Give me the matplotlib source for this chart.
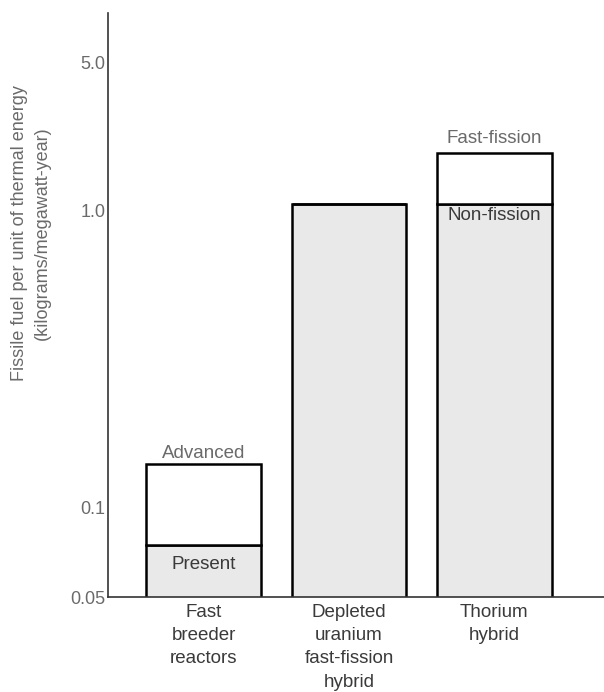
"""Fissile fuel requirement per unit of thermal energy, by reactor type."""

import matplotlib.pyplot as plt

plt.rcParams["font.family"] = ["Liberation Sans", "DejaVu Sans"]

categories = ["Fast\nbreeder\nreactors", "Depleted\nuranium\nfast-fission\nhybrid", "Thorium\nhybrid"]
# lower (shaded) segment and total height of each bar, kg/MW-year
lower_values = [0.075, 1.05, 1.05]
total_values = [0.14, 1.05, 1.56]
lower_labels = ["Present", None, "Non-fission"]
upper_labels = ["Advanced", None, "Fast-fission"]

# the source draws its "5.0" label off the log scale; keep it where the picture has it
ytick_values = [0.05, 0.1, 1.0, 3.16]
ytick_labels = ["0.05", "0.1", "1.0", "5.0"]

GRAY_TEXT = "#6a6a6a"
DARK_TEXT = "#3a3a3a"
FILL = "#e9e9e9"


def main() -> None:
    fig = plt.figure(figsize=(6.04, 6.92), dpi=100)
    ax = fig.add_axes([108 / 604, 1 - 597 / 692, 1 - 108 / 604, (597 - 13) / 692])
    ax.set_yscale("log")
    ax.set_ylim(0.05, 4.63)
    x = list(range(len(categories)))
    ax.set_xlim(-0.659, 2.755)

    width = 0.79
    ax.bar(x, lower_values, width=width, color=FILL,
           edgecolor="black", linewidth=1.8, zorder=2)
    upper = [t - l for t, l in zip(total_values, lower_values)]
    ax.bar(x, upper, width=width, bottom=lower_values, color="white",
           edgecolor="black", linewidth=1.8, zorder=2)

    # label offsets in points (upper above bar top, lower below the divider)
    up_off = [8, 0, 11]
    lo_off = [-14, 0, -8]
    for i, xi in enumerate(x):
        if upper_labels[i]:
            ax.annotate(upper_labels[i], (xi, total_values[i]), xytext=(0, up_off[i]),
                        textcoords="offset points", ha="center", va="center",
                        fontsize=13.5, color=GRAY_TEXT)
        if lower_labels[i]:
            ax.annotate(lower_labels[i], (xi, lower_values[i]), xytext=(0, lo_off[i]),
                        textcoords="offset points", ha="center", va="center",
                        fontsize=13.5, color=DARK_TEXT)

    ax.set_yticks(ytick_values)
    ax.set_yticklabels(ytick_labels)
    ax.yaxis.set_minor_locator(plt.NullLocator())
    ax.set_xticks(x)
    ax.set_xticklabels(categories, linespacing=1.48)
    ax.tick_params(axis="y", length=0, pad=2, labelsize=13, labelcolor=GRAY_TEXT)
    ax.tick_params(axis="x", length=0, pad=5, labelsize=13.5, labelcolor=DARK_TEXT)

    for side in ("top", "right"):
        ax.spines[side].set_visible(False)
    for side in ("left", "bottom"):
        ax.spines[side].set_linewidth(1.2)
        ax.spines[side].set_color("#333333")

    fig.text(20 / 604, 1 - 233 / 692, "Fissile fuel per unit of thermal energy",
             rotation=90, ha="center", va="center", fontsize=13, color=GRAY_TEXT)
    fig.text(42 / 604, 1 - 233 / 692, "(kilograms/megawatt-year)",
             rotation=90, ha="center", va="center", fontsize=13, color=GRAY_TEXT)

    fig.savefig("out.png", dpi=100)


if __name__ == "__main__":
    main()
